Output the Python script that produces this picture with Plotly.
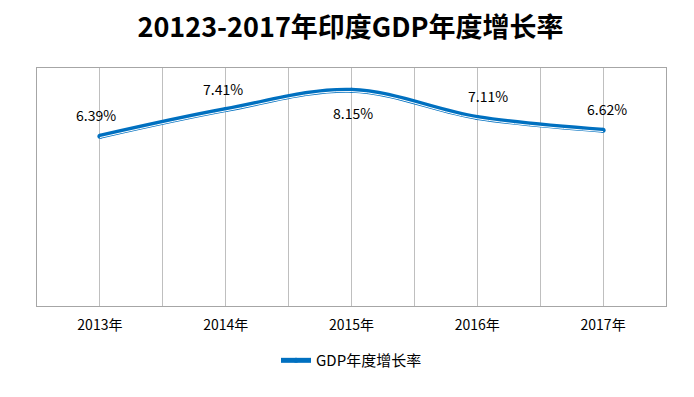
import plotly.graph_objects as go

years = ["2013年", "2014年", "2015年", "2016年", "2017年"]
growth = [6.39, 7.41, 8.15, 7.11, 6.62]
labels = ["6.39%", "7.41%", "8.15%", "7.11%", "6.62%"]
label_below = [False, False, True, False, False]
label_dx = [-4, -3, 1, 11, 4]

FONT = "Noto Sans CJK SC, Noto Sans, sans-serif"
BLUE = "#0070C0"

xs = list(range(len(years)))

fig = go.Figure()
fig.add_trace(go.Scatter(
    x=xs, y=growth, mode="lines+markers", name="GDP年度增长率",
    line=dict(color=BLUE, width=5, shape="spline", smoothing=1),
    marker=dict(color=BLUE, size=5),
))
fig.add_trace(go.Scatter(
    x=xs, y=[v - 0.05 for v in growth], mode="lines", showlegend=False,
    line=dict(color="white", width=1, shape="spline", smoothing=1),
    hoverinfo="skip",
))

for x, v, t, below, dx in zip(xs, growth, labels, label_below, label_dx):
    fig.add_annotation(x=x, y=v, text=t, showarrow=False,
                       yshift=-23 if below else 21, xshift=dx,
                       font=dict(family=FONT, size=14, color="#000"))

tickvals = [i * 0.5 for i in range(-1, 10)]
ticktext = [years[int(v)] if v == int(v) and 0 <= v <= 4 else "" for v in tickvals]

fig.update_layout(
    width=694, height=397,
    paper_bgcolor="white", plot_bgcolor="white",
    margin=dict(l=37, r=28, t=68, b=91, autoexpand=False),
    title=dict(text="<b>20123-2017年印度GDP年度增长率</b>", x=0.505, xanchor="center",
               y=0.93, yanchor="middle",
               font=dict(family=FONT, size=27, color="#000")),
    font=dict(family=FONT, size=14, color="#000"),
    showlegend=True,
    legend=dict(orientation="h", x=0.5, xanchor="center", y=-0.16, yanchor="top",
                font=dict(family=FONT, size=15, color="#000")),
    xaxis=dict(range=[-0.5, 4.5], tickvals=tickvals, ticktext=ticktext,
               showgrid=True, gridcolor="#BFBFBF", gridwidth=1,
               showline=True, linecolor="#A6A6A6", mirror=True, ticks="",
               ticklabelstandoff=6,
               zeroline=False, tickfont=dict(family=FONT, size=14)),
    yaxis=dict(range=[-0.1, 9], showgrid=False, showticklabels=False,
               showline=True, linecolor="#A6A6A6", mirror=True,
               zeroline=False, ticks=""),
)

fig.write_html("out.html", config={"displayModeBar": False},
               post_script="document.body.style.margin='0';")
